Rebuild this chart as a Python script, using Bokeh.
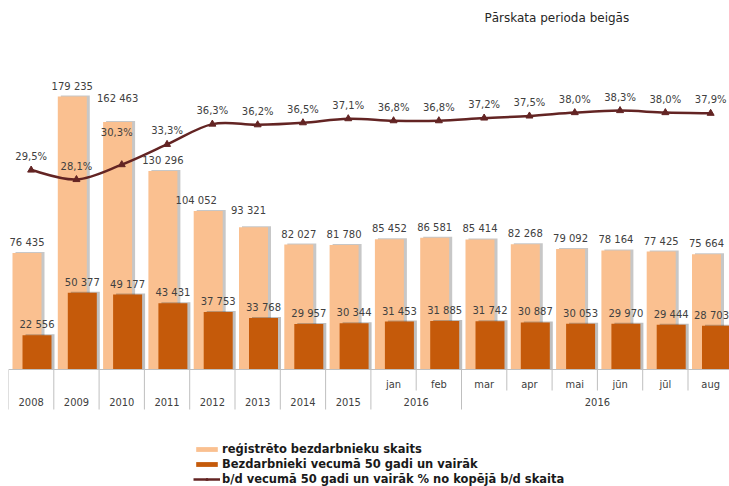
import numpy as np
from bokeh.plotting import figure
from bokeh.models import (ColumnDataSource, Range1d, LinearAxis, FixedTicker,
                          Legend, LegendItem)
from bokeh.core.properties import value
from bokeh.embed import file_html
from bokeh.resources import INLINE

# ---------------- data ----------------
periods = ["2008", "2009", "2010", "2011", "2012", "2013", "2014", "2015",
           "jan", "feb", "mar", "apr", "mai", "jūn", "jūl", "aug"]
year_labels = ["2008", "2009", "2010", "2011", "2012", "2013", "2014", "2015"]
month_labels = ["jan", "feb", "mar", "apr", "mai", "jūn", "jūl", "aug"]
group_labels = ["2016", "2016"]
group_sizes = [2, 6]
registered = [76435, 179235, 162463, 130296, 104052, 93321, 82027, 81780,
              85452, 86581, 85414, 82268, 79092, 78164, 77425, 75664]
aged_50_plus = [22556, 50377, 49177, 43431, 37753, 33768, 29957, 30344,
                31453, 31885, 31742, 30887, 30053, 29970, 29444, 28703]
share_50_plus = [29.5, 28.1, 30.3, 33.3, 36.3, 36.2, 36.5, 37.1,
                 36.8, 36.8, 37.2, 37.5, 38.0, 38.3, 38.0, 37.9]
title_text = "Pārskata perioda beigās"
series_names = ["reģistrēto bezdarbnieku skaits",
                "Bezdarbnieki vecumā 50 gadi un vairāk",
                "b/d vecumā 50 gadi un vairāk % no kopējā b/d skaita"]

# ---------------- layout / style ----------------
CAT_PX = 45.3          # pixels per category
LEFT = 8
TOP = 28
FRAME_W = 729 - LEFT
FRAME_H = 486 - TOP
ZERO_Y = 369           # page y of the zero line
BELOW_PX = 486 - ZERO_Y
ABOVE_PX = ZERO_Y - TOP
PX_PER_COUNT = 0.001523
PX_PER_PCT = 6.76

LIGHT = "#FAC090"
DARK = "#C55A0A"
LINE = "#632423"
TEXT = "#404040"
SEP = "#BFBFBF"
FONT = "DejaVu Sans"
AXFONT = "DejaVu Sans Condensed, DejaVu Sans"

def px_x(px):
    return px / CAT_PX

def px_count(px):
    return px / PX_PER_COUNT

n = len(periods)
idx = np.arange(n)
centers = idx + 0.5
BAR_W = px_x(29)
light_x = idx + px_x(18.5)
dark_x = idx + px_x(28.5)

def fmt_int(v):
    return f"{v:,}".replace(",", " ")

def fmt_pct(v):
    return f"{v:.1f}%".replace(".", ",")

# label nudges (pixels) to mimic the hand-placed labels of the original
light_dx = [0] * n
light_dy = [0] * n
light_dx[4] = -12
light_dx[5] = -5
light_dy[2] = -13
light_dy[5] = -6
dark_dx = [0] * n
dark_dx[-1] = -5
pct_dy = [0] * n
pct_dx = [0] * n
pct_dy[2] = -19
pct_dx[2] = -5

reg_src = ColumnDataSource(dict(
    x=light_x, top=registered, label=[fmt_int(v) for v in registered],
    xs=light_x + px_x(3), stop=np.array(registered) + px_count(1),
    dx=light_dx, dy=[d - 10.5 for d in light_dy]))
old_src = ColumnDataSource(dict(
    x=dark_x, top=aged_50_plus, label=[fmt_int(v) for v in aged_50_plus],
    xs=dark_x + px_x(3), stop=np.array(aged_50_plus) + px_count(1),
    dx=dark_dx))
pct_src = ColumnDataSource(dict(
    x=centers, y=share_50_plus, label=[fmt_pct(v) for v in share_50_plus],
    dx=pct_dx, dy=[d - 13.5 for d in pct_dy]))

# smooth curve (Catmull-Rom -> cubic Bezier) through the percentage points
P = np.column_stack([centers, np.array(share_50_plus, dtype=float)])
prev_p = np.vstack([P[:1], P[:-2]])
next_p = np.vstack([P[2:], P[-1:]])
c0 = P[:-1] + (P[1:] - prev_p) / 6.0
c1 = P[1:] - (next_p - P[:-1]) / 6.0
bez_src = ColumnDataSource(dict(
    x0=P[:-1, 0], y0=P[:-1, 1], x1=P[1:, 0], y1=P[1:, 1],
    cx0=c0[:, 0], cy0=c0[:, 1], cx1=c1[:, 0], cy1=c1[:, 1]))

p = figure(frame_width=FRAME_W, frame_height=FRAME_H,
           x_range=Range1d(0, FRAME_W / CAT_PX),
           y_range=Range1d(-px_count(BELOW_PX), px_count(ABOVE_PX)),
           x_axis_location=None, y_axis_location=None,
           output_backend="svg", toolbar_location=None,
           min_border=0, min_border_left=LEFT, min_border_top=TOP,
           outline_line_color=None,
           background_fill_color="white", border_fill_color="white")
p.extra_y_ranges = {"pct": Range1d(-BELOW_PX / PX_PER_PCT, ABOVE_PX / PX_PER_PCT)}
p.grid.visible = False

p.title.text = title_text
p.title.align = "left"
p.title.offset = 476
p.title.text_font = FONT
p.title.text_font_size = "12px"
p.title.text_font_style = "normal"
p.title.text_color = "#262626"
p.title.standoff = 8

# separators of the category table
full_b = list(range(0, 9)) + [10, 16]
short_b = [9, 11, 12, 13, 14, 15]
p.segment(x0=full_b, y0=[0] * len(full_b), x1=full_b,
          y1=[-px_count(40)] * len(full_b), line_color=SEP, line_width=1)
p.segment(x0=short_b, y0=[0] * len(short_b), x1=short_b,
          y1=[-px_count(21)] * len(short_b), line_color=SEP, line_width=1)

# bars with soft shadows
p.vbar(x="xs", top="stop", bottom=0, width=BAR_W, source=reg_src,
       fill_color="#000000", fill_alpha=0.22, line_color=None)
r_light = p.vbar(x="x", top="top", bottom=0, width=BAR_W, source=reg_src,
                 fill_color=LIGHT, line_color=None)
p.vbar(x="xs", top="stop", bottom=0, width=BAR_W, source=old_src,
       fill_color="#000000", fill_alpha=0.25, line_color=None)
r_dark = p.vbar(x="x", top="top", bottom=0, width=BAR_W, source=old_src,
                fill_color=DARK, line_color=None)

# percentage line
r_curve = p.bezier(x0="x0", y0="y0", x1="x1", y1="y1", cx0="cx0", cy0="cy0",
                   cx1="cx1", cy1="cy1", source=bez_src, line_color=LINE,
                   line_width=2.5, y_range_name="pct")
r_mark = p.scatter(x="x", y="y", source=pct_src, marker="triangle", size=7,
                   fill_color=LINE, line_color=LINE, y_range_name="pct")

# data labels
p.text(x="x", y="top", text="label", source=reg_src, x_offset="dx", y_offset="dy",
       text_font=value(FONT), text_font_size="10px", text_color=TEXT,
       text_align="center", text_baseline="middle")
p.text(x="x", y="top", text="label", source=old_src, x_offset="dx", y_offset=-10.5,
       text_font=value(FONT), text_font_size="10px", text_color=TEXT,
       text_align="center", text_baseline="middle")
p.text(x="x", y="y", text="label", source=pct_src, x_offset="dx", y_offset="dy",
       y_range_name="pct",
       text_font=value(FONT), text_font_size="10px", text_color=TEXT,
       text_align="center", text_baseline="middle")

# two-row category axis
n_years = len(year_labels)
month_ticks = [float(t) for t in centers[n_years:]]
bounds = np.cumsum([n_years] + group_sizes)
group_ticks = [float((bounds[i] + bounds[i + 1]) / 2) for i in range(len(group_sizes))]
year_ticks = [float(t) for t in centers[:n_years]] + group_ticks

month_axis = LinearAxis(ticker=FixedTicker(ticks=month_ticks),
                        major_label_overrides=dict(zip(month_ticks, month_labels)),
                        fixed_location=0)
year_axis = LinearAxis(ticker=FixedTicker(ticks=year_ticks),
                       major_label_overrides=dict(zip(year_ticks, year_labels + group_labels)),
                       fixed_location=0)
for ax, standoff, line_col in ((month_axis, 2, SEP), (year_axis, 22, None)):
    ax.major_tick_line_color = None
    ax.minor_tick_line_color = None
    ax.axis_line_color = line_col
    ax.major_label_standoff = standoff
    ax.major_label_text_font = AXFONT
    ax.major_label_text_font_size = "11px"
    ax.major_label_text_color = TEXT
    p.add_layout(ax, "below")

legend = Legend(items=[
    LegendItem(label=series_names[0], renderers=[r_light]),
    LegendItem(label=series_names[1], renderers=[r_dark]),
    LegendItem(label=series_names[2], renderers=[r_curve, r_mark]),
], location=(185, 0), orientation="vertical")
legend.padding = 0
legend.margin = 0
legend.spacing = 1
legend.glyph_width = 27
legend.glyph_height = 6
legend.label_height = 12
legend.label_standoff = 2
legend.label_text_font = FONT
legend.label_text_font_size = "11.5px"
legend.label_text_font_style = "bold"
legend.label_text_color = "#1a1a1a"
legend.border_line_color = None
legend.background_fill_alpha = 0
p.add_layout(legend, "center")

open("out.html", "w").write(file_html(p, INLINE))
